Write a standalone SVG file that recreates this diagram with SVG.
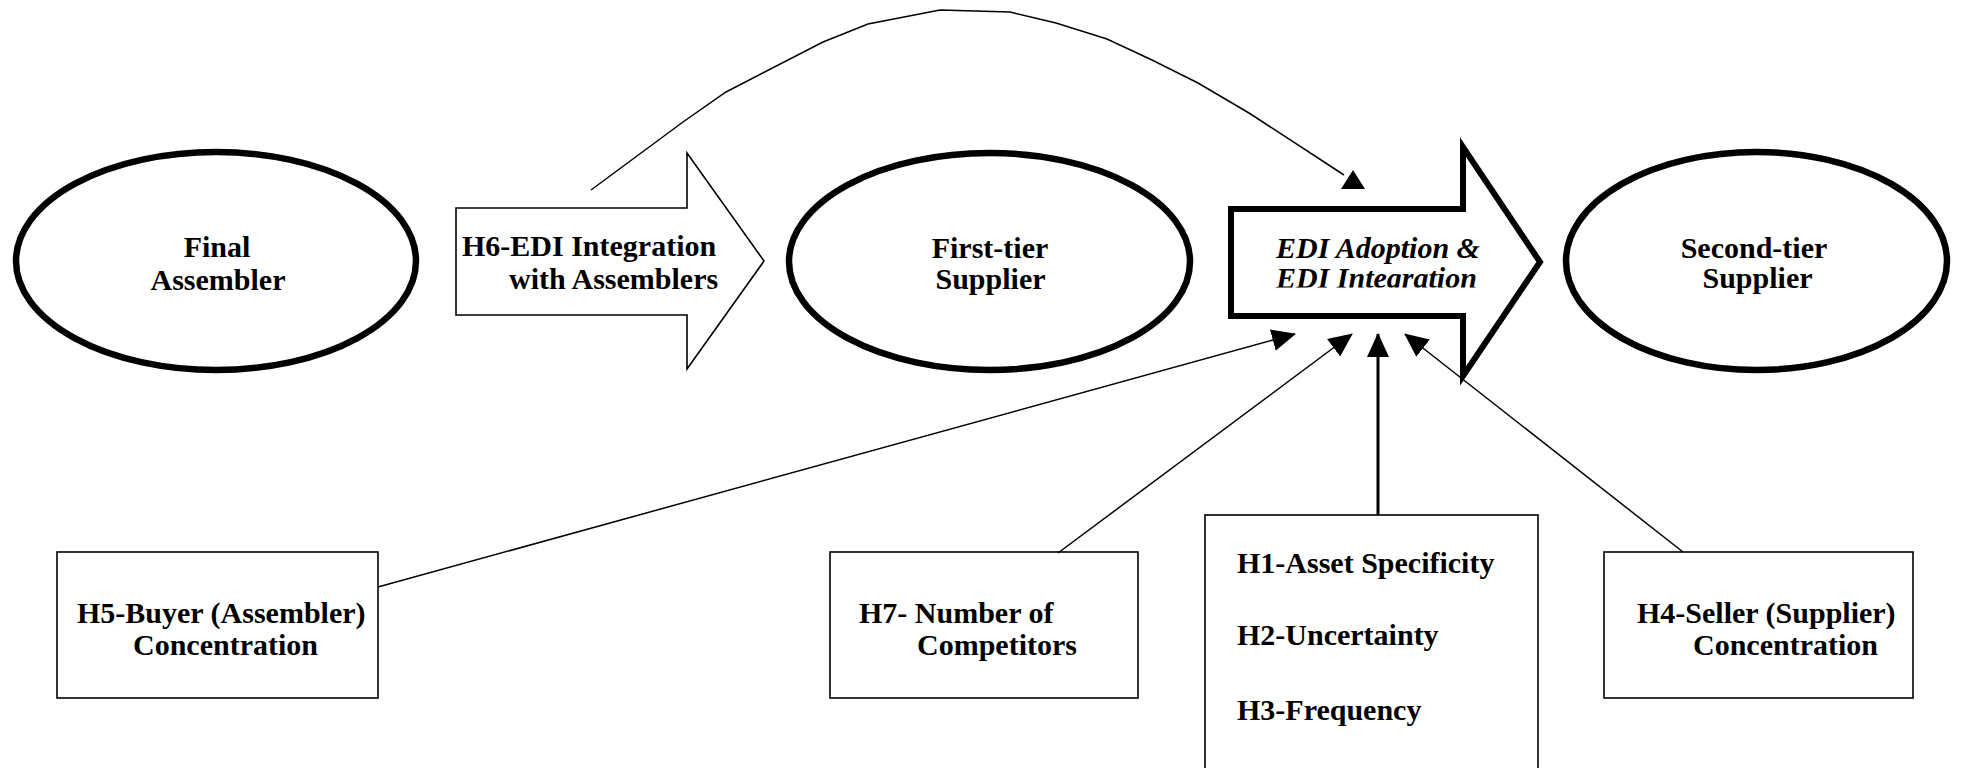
<svg xmlns="http://www.w3.org/2000/svg" width="1963" height="768" viewBox="0 0 1963 768">
<style>
  .t { font-family: "Liberation Serif", "Times New Roman", "DejaVu Serif", serif; font-size: 30px; font-weight: bold; fill: #000; }
  .ti { font-family: "Liberation Serif", "Times New Roman", "DejaVu Serif", serif; font-size: 30px; font-weight: bold; font-style: italic; fill: #000; }
  .ell { fill: #fff; stroke: #000; stroke-width: 6.5; }
  .box { fill: #fff; stroke: #000; stroke-width: 1.6; }
  .thin { fill: none; stroke: #000; stroke-width: 1.5; }
  .thick { fill: none; stroke: #000; stroke-width: 3; }
</style>
<defs>
  <marker id="ah" markerUnits="userSpaceOnUse" markerWidth="24" markerHeight="22" refX="23" refY="11" orient="auto">
    <path d="M0,0 L24,11 L0,22 Z" fill="#000"/>
  </marker>
  <clipPath id="clipEdi">
    <rect x="1240" y="215" width="260" height="72.5"/>
  </clipPath>
</defs>
<rect x="0" y="0" width="1963" height="768" fill="#fff"/>

<g id="final-assembler">
  <ellipse class="ell" cx="216" cy="261" rx="200" ry="109"/>
  <text class="t" x="217" y="257" text-anchor="middle">Final</text>
  <text class="t" x="218" y="290" text-anchor="middle">Assembler</text>
</g>

<g id="h6-arrow">
  <polygon class="box" points="456,208 687,208 687,153 764,261 687,369 687,315 456,315"/>
  <text class="t" x="462" y="256">H6-EDI Integration</text>
  <text class="t" x="509" y="289">with Assemblers</text>
</g>

<g id="first-tier-supplier">
  <ellipse class="ell" cx="989.5" cy="261.5" rx="200.5" ry="108.5"/>
  <text class="t" x="990" y="258" text-anchor="middle">First-tier</text>
  <text class="t" x="990.5" y="289" text-anchor="middle">Supplier</text>
</g>

<g id="edi-arrow">
  <polygon fill="#fff" stroke="#000" stroke-width="6" stroke-linejoin="miter" points="1231,209 1463,209 1463,147 1540,262 1463,376 1463,316 1231,316"/>
  <text class="ti" x="1276" y="258">EDI Adoption &amp;</text>
  <text class="ti" x="1276" y="288" clip-path="url(#clipEdi)">EDI Integration</text>
</g>

<g id="second-tier-supplier">
  <ellipse class="ell" cx="1756.5" cy="261" rx="190.5" ry="109"/>
  <text class="t" x="1754" y="258" text-anchor="middle">Second-tier</text>
  <text class="t" x="1757.5" y="288" text-anchor="middle">Supplier</text>
</g>

<g id="h5-box">
  <rect class="box" x="57" y="552" width="321" height="146"/>
  <text class="t" x="77" y="623">H5-Buyer (Assembler)</text>
  <text class="t" x="133" y="655">Concentration</text>
</g>

<g id="h7-box">
  <rect class="box" x="830" y="552" width="308" height="146"/>
  <text class="t" x="859" y="623">H7- Number of</text>
  <text class="t" x="917" y="655">Competitors</text>
</g>

<g id="h1-h3-box">
  <rect class="box" x="1205" y="515" width="333" height="270"/>
  <text class="t" x="1237" y="573">H1-Asset Specificity</text>
  <text class="t" x="1237" y="645">H2-Uncertainty</text>
  <text class="t" x="1237" y="720">H3-Frequency</text>
</g>

<g id="h4-box">
  <rect class="box" x="1604" y="552" width="309" height="146"/>
  <text class="t" x="1637" y="623">H4-Seller (Supplier)</text>
  <text class="t" x="1693" y="655">Concentration</text>
</g>

<g id="connectors">
  <polyline class="thin" points="591,190 683,122 726,92 823,42 868,24 940,10 1010,12 1056,23 1107,39 1152,60 1198,83 1249,113 1344,175"/>
  <polygon points="1353,170 1341,189 1365,189" fill="#000"/>
  <line class="thin" x1="378" y1="587" x2="1295" y2="334" marker-end="url(#ah)"/>
  <line class="thin" x1="1058" y1="553" x2="1352" y2="334" marker-end="url(#ah)"/>
  <line class="thick" x1="1378" y1="515" x2="1378" y2="334" marker-end="url(#ah)"/>
  <line class="thin" x1="1683" y1="552" x2="1405" y2="334" marker-end="url(#ah)"/>
</g>
</svg>
